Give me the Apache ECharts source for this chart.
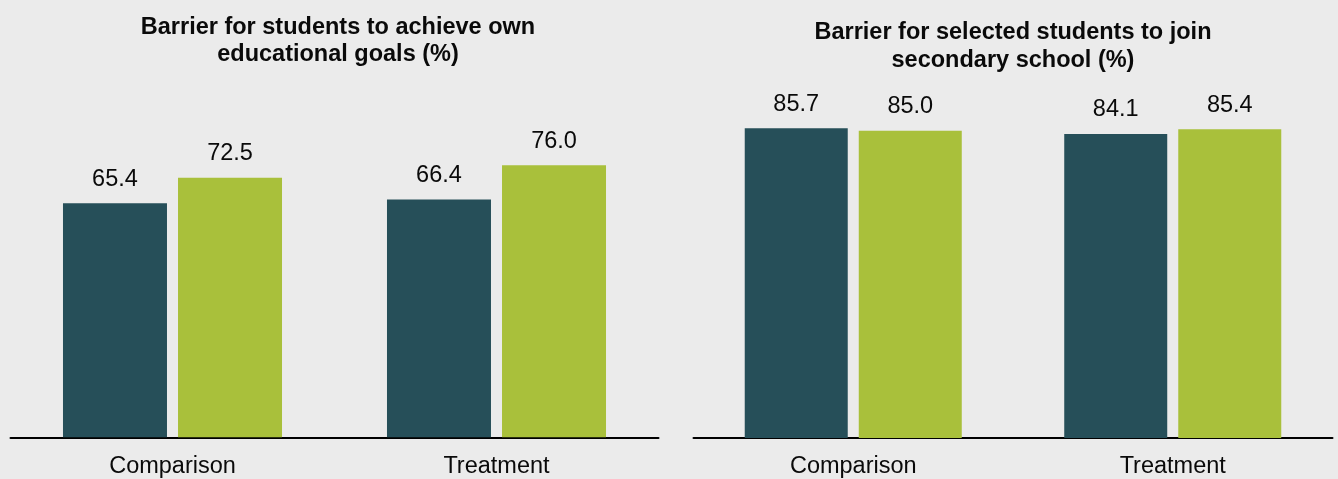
<!DOCTYPE html>
<html>
<head>
<meta charset="utf-8">
<script src="https://cdn.jsdelivr.net/npm/echarts@6/dist/echarts.min.js"></script>
<style>
  html, body { margin: 0; padding: 0; background: #ebebeb; }
  #chart { width: 1338px; height: 479px; }
</style>
</head>
<body>
<div id="chart"></div>
<script>
// Categories shared by both panels
const categories = ['Comparison', 'Treatment'];

// Panel 1: barrier for students to achieve own educational goals (%)
const goalsFirst = [65.4, 66.4];
const goalsSecond = [72.5, 76.0];

// Panel 2: barrier for selected students to join secondary school (%)
const joinFirst = [85.7, 84.1];
const joinSecond = [85.0, 85.4];

const panelTitles = [
  'Barrier for students to achieve own\neducational goals (%)',
  'Barrier for selected students to join\nsecondary school (%)'
];

const FONT = '"Liberation Sans", Arial, Helvetica, sans-serif';
const DARK = '#264f59';
const GREEN = '#a9c03b';

const chart = echarts.init(document.getElementById('chart'), null, { renderer: 'canvas' });

function xAxisFor(gridIndex) {
  return {
    type: 'category',
    gridIndex: gridIndex,
    data: categories,
    axisLine: { show: true, lineStyle: { color: '#000', width: 2 } },
    axisTick: { show: false },
    axisLabel: { color: '#0a0a0a', fontFamily: FONT, fontSize: 23.5, margin: 17 },
    splitLine: { show: false }
  };
}

function yAxisFor(gridIndex) {
  return {
    type: 'value',
    gridIndex: gridIndex,
    min: 0,
    max: 100,
    show: false,
    splitLine: { show: false }
  };
}

function barSeries(name, values, color, axisIndex, width) {
  return {
    name: name,
    type: 'bar',
    xAxisIndex: axisIndex,
    yAxisIndex: axisIndex,
    data: values,
    barWidth: width,
    barGap: (11 / width * 100).toFixed(1) + '%',
    itemStyle: { color: color },
    label: {
      show: true,
      position: 'top',
      distance: 12,
      formatter: (p) => p.value.toFixed(1),
      color: '#0a0a0a',
      fontFamily: FONT,
      fontSize: 23.5
    },
    emphasis: { disabled: true },
    animation: false
  };
}

chart.setOption({
  backgroundColor: '#ebebeb',
  animation: false,
  title: [
    {
      text: panelTitles[0],
      left: 333,
      top: 9,
      textAlign: 'center',
      textStyle: { fontFamily: FONT, fontSize: 23.5, fontWeight: 'bold', color: '#0a0a0a', lineHeight: 27 }
    },
    {
      text: panelTitles[1],
      left: 1008,
      top: 14,
      textAlign: 'center',
      textStyle: { fontFamily: FONT, fontSize: 23.5, fontWeight: 'bold', color: '#0a0a0a', lineHeight: 28 }
    }
  ],
  grid: [
    { left: 10.5, width: 648, top: 79.3, height: 358 },
    { left: 693.5, width: 639, top: 76.5, height: 361.8 }
  ],
  xAxis: [xAxisFor(0), xAxisFor(1)],
  yAxis: [yAxisFor(0), yAxisFor(1)],
  series: [
    barSeries('First', goalsFirst, DARK, 0, 104),
    barSeries('Second', goalsSecond, GREEN, 0, 104),
    barSeries('First', joinFirst, DARK, 1, 103),
    barSeries('Second', joinSecond, GREEN, 1, 103)
  ]
});
</script>
</body>
</html>
